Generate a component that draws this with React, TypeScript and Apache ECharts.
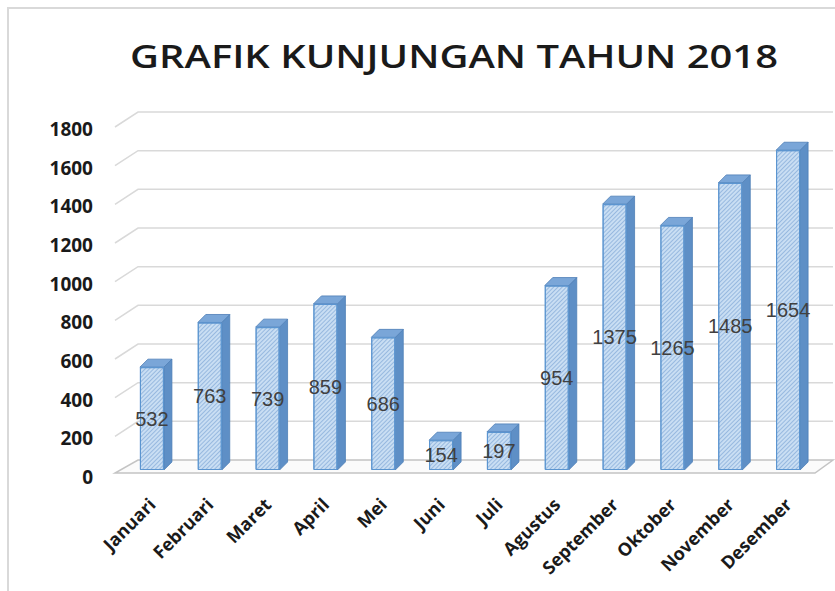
import React, { useEffect, useRef } from "react";
import * as echarts from "echarts";

const chartTitle = "GRAFIK KUNJUNGAN TAHUN 2018";
const categories = [
  "Januari", "Februari", "Maret", "April", "Mei", "Juni",
  "Juli", "Agustus", "September", "Oktober", "November", "Desember",
];
const visits = [532, 763, 739, 859, 686, 154, 197, 954, 1375, 1265, 1485, 1654];
const yTicks = [0, 200, 400, 600, 800, 1000, 1200, 1400, 1600, 1800];

export default function App() {
  const ref = useRef<HTMLDivElement>(null);

  useEffect(() => {
    if (!ref.current) return;
    const chart = echarts.init(ref.current, undefined, { renderer: "svg" });

    const titleFont = '600 32px "Open Sans"';
    let scaleX = 1.1;
    try {
      const ctx = document.createElement("canvas").getContext("2d");
      if (ctx) {
        ctx.font = titleFont;
        const w = ctx.measureText(chartTitle).width;
        if (w > 0) scaleX = 648 / w;
      }
    } catch (e) {}

    const depthX = 8;
    const depthY = -8;
    const faceW = 24;

    chart.setOption({
      animation: false,
      backgroundColor: "#ffffff",
      graphic: [
        {
          type: "rect",
          shape: { x: 8, y: 8, width: 900, height: 700 },
          style: { fill: "none", stroke: "#d9d9d9", lineWidth: 2 },
          z: 0,
        },
        {
          type: "text",
          x: 454,
          y: 56,
          scaleX: scaleX,
          style: {
            text: chartTitle,
            font: titleFont,
            fill: "#1a1a1a",
            textAlign: "center",
            textVerticalAlign: "middle",
          },
        },
      ],
      grid: { left: 123, right: 18, top: 122, bottom: 121 },
      xAxis: {
        type: "category",
        data: categories,
        axisTick: { show: false },
        axisLine: { show: false },
        axisLabel: {
          interval: 0,
          rotate: 45,
          margin: 31,
          fontFamily: "Open Sans",
          fontWeight: "bold",
          fontSize: 18,
          color: "#1a1a1a",
        },
      },
      yAxis: {
        type: "value",
        min: 0,
        max: 1800,
        interval: 200,
        axisLine: { show: false },
        axisTick: { show: false },
        splitLine: { show: false },
        axisLabel: {
          margin: 30,
          fontFamily: "Open Sans",
          fontWeight: "bold",
          fontSize: 19,
          lineHeight: 14,
          verticalAlign: "top",
          color: "#1a1a1a",
          formatter: (v: number) => String(v),
        },
      },
      series: [
        {
          type: "custom",
          name: "walls",
          silent: true,
          clip: false,
          z: 1,
          data: yTicks.map((v) => [0, v]),
          renderItem: (params: any, api: any) => {
            const cs = params.coordSys;
            const v = api.value(1);
            const y = api.coord([0, v])[1];
            const x0 = cs.x;
            const x1 = cs.x + cs.width;
            if (v === 0) {
              return {
                type: "polygon",
                shape: {
                  points: [
                    [x0 - 8, y + 3],
                    [x1 - 2, y + 3],
                    [x1 + 16, y - 10],
                    [x0 + 15, y - 10],
                  ],
                },
                style: { fill: "#fbfbfb", stroke: "#c4c4c4", lineWidth: 1.5 },
              };
            }
            return {
              type: "polyline",
              shape: {
                points: [
                  [x0 - 8, y + 5],
                  [x0 + 15, y - 10],
                  [x1 + 16, y - 10],
                ],
              },
              style: { fill: "none", stroke: "#d9d9d9", lineWidth: 1.5 },
            };
          },
        },
        {
          type: "custom",
          name: "depth",
          silent: true,
          clip: false,
          z: 2,
          data: visits.map((v, i) => [i, v]),
          renderItem: (params: any, api: any) => {
            const idx = api.value(0);
            const v = api.value(1);
            const p = api.coord([idx, v]);
            const b = api.coord([idx, 0]);
            const l = p[0] - faceW / 2;
            const r = p[0] + faceW / 2;
            return {
              type: "group",
              children: [
                {
                  type: "polygon",
                  shape: {
                    points: [
                      [r, p[1]],
                      [r + depthX, p[1] + depthY],
                      [r + depthX, b[1] + depthY],
                      [r, b[1]],
                    ],
                  },
                  style: { fill: "#5e8fc6", stroke: "#4d7eb6", lineWidth: 0.8 },
                },
                {
                  type: "polygon",
                  shape: {
                    points: [
                      [l, p[1]],
                      [l + depthX, p[1] + depthY],
                      [r + depthX, p[1] + depthY],
                      [r, p[1]],
                    ],
                  },
                  style: { fill: "#7aa6d8", stroke: "#4d7eb6", lineWidth: 0.8 },
                },
              ],
            };
          },
        },
        {
          type: "bar",
          name: "Kunjungan",
          data: visits,
          barWidth: faceW,
          z: 3,
          itemStyle: {
            color: "#c9def3",
            borderColor: "#5b95d0",
            borderWidth: 1,
            decal: {
              symbol: "rect",
              symbolSize: 1,
              dashArrayX: [1, 0],
              dashArrayY: [1, 2],
              rotation: -Math.PI / 4,
              color: "rgba(90,140,200,0.45)",
            },
          },
          label: {
            show: true,
            position: "inside",
            fontFamily: "Liberation Sans",
            fontSize: 20,
            color: "#404040",
          },
        },
      ],
    });

    return () => {
      chart.dispose();
    };
  }, []);

  return (
    <div
      ref={ref}
      style={{
        position: "absolute",
        left: 0,
        top: 0,
        width: 835,
        height: 591,
        background: "#ffffff",
      }}
    />
  );
}
